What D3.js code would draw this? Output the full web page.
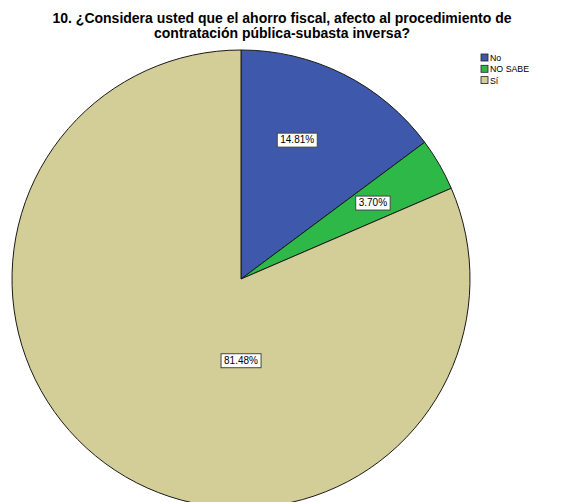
<!DOCTYPE html>
<html>
<head>
<meta charset="utf-8">
<script src="https://cdn.jsdelivr.net/npm/d3@7"></script>
<style>
  body { margin: 0; background: #fff; }
  svg { display: block; font-family: "Liberation Sans", Arial, sans-serif; }
</style>
</head>
<body>
<script>
// data (27 answers)
var categories = ["No", "NO SABE", "Sí"];
var counts = [4, 1, 22];
var colors = ["#3E58AC", "#2EB848", "#D3CE97"];
var titleLines = ["10. ¿Considera usted que el ahorro fiscal, afecto al procedimiento de",
                  "contratación pública-subasta inversa?"];

// where SPSS dropped each percent label (angle in degrees from 12 o'clock, share of radius)
var labelAngle = [22, 60, 180];
var labelDist = [0.655, 0.665, 0.356];

var w = 587, h = 502,
    cx = 241, cy = 279, r = 229;

var svg = d3.select("body").append("svg")
    .attr("width", w)
    .attr("height", h);

// title, two lines
svg.selectAll("text.title")
    .data(titleLines)
    .enter()
    .append("text")
    .attr("class", "title")
    .attr("x", 282)
    .attr("y", function(d, i) { return 23 + i * 15; })
    .attr("text-anchor", "middle")
    .attr("font-size", "14px")
    .attr("font-weight", "bold")
    .attr("fill", "#000")
    .text(function(d) { return d; });

var total = d3.sum(counts);
var pie = d3.pie().sort(null).value(function(d) { return d; });
var arcs = pie(counts);
var arc = d3.arc().innerRadius(0).outerRadius(r);

var g = svg.append("g").attr("transform", "translate(" + cx + "," + cy + ")");

g.selectAll("path")
    .data(arcs)
    .enter()
    .append("path")
    .attr("d", arc)
    .attr("fill", function(d, i) { return colors[i]; })
    .attr("stroke", "#1a1a1a")
    .attr("stroke-width", 1);

// percent labels in white boxes
var labels = g.selectAll("g.lab")
    .data(arcs)
    .enter()
    .append("g")
    .attr("class", "lab")
    .attr("transform", function(d, i) {
        var a = labelAngle[i] * Math.PI / 180, rr = labelDist[i] * r;
        return "translate(" + (rr * Math.sin(a)) + "," + (-rr * Math.cos(a)) + ")";
    });

labels.append("text")
    .attr("text-anchor", "middle")
    .attr("dy", "0.35em")
    .attr("font-size", "10px")
    .attr("fill", "#000")
    .text(function(d) { return d3.format(".2f")(d.value / total * 100) + "%"; });

labels.each(function() {
    var gl = d3.select(this),
        b = gl.select("text").node().getBBox();
    gl.insert("rect", "text")
        .attr("x", b.x - 3)
        .attr("y", -6.8)
        .attr("width", b.width + 6)
        .attr("height", 14)
        .attr("fill", "#fff")
        .attr("stroke", "#444")
        .attr("stroke-width", 1);
});

// legend
var legend = svg.selectAll("g.leg")
    .data(categories)
    .enter()
    .append("g")
    .attr("class", "leg")
    .attr("transform", function(d, i) { return "translate(481," + (54 + i * 11.3) + ")"; });

legend.append("rect")
    .attr("width", 7)
    .attr("height", 7)
    .attr("fill", function(d, i) { return colors[i]; })
    .attr("stroke", "#222")
    .attr("stroke-width", 0.8);

legend.append("text")
    .attr("x", 9)
    .attr("y", 7)
    .attr("font-size", "8.8px")
    .attr("fill", "#000")
    .text(function(d) { return d; });
</script>
</body>
</html>
